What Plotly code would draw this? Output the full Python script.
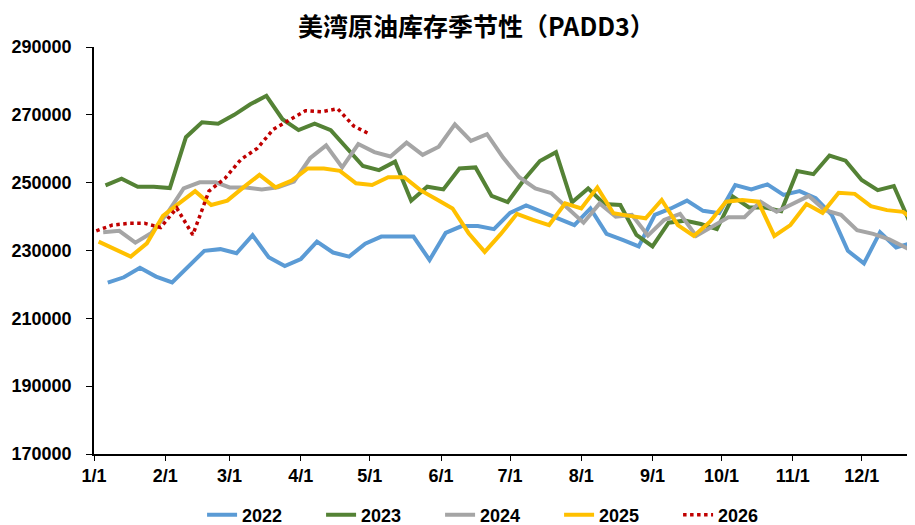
import pandas as pd
import plotly.graph_objects as go

BASE_YEAR = 2023

start_2022 = "2022-01-07"
v2022 = [220500, 222100, 224900, 222300, 220600, 225200, 229900, 230400, 229200, 234500,
         228000, 225400, 227500, 232600, 229400, 228200, 232000, 234100, 234100, 234100,
         227200, 235200, 237200, 237200, 236300, 241100, 243300, 241400, 239500, 237500,
         242400, 234900, 233100, 231200, 240500, 242400, 244700, 241700, 241000, 249300,
         248000, 249500, 246400, 247500, 245400, 240500, 229900, 226200, 235400, 230900,
         232300]

start_2023 = "2023-01-06"
v2023 = [249200, 251200, 248800, 248800, 248400, 263400, 267800, 267400, 270000, 273100,
         275600, 268700, 265500, 267400, 265500, 260100, 254900, 253700, 256200, 244700,
         248800, 248000, 254200, 254500, 246100, 244300, 250800, 256400, 259000, 244200,
         248300, 243700, 243400, 234600, 231200, 238200, 238800, 237800, 236300, 245900,
         242700, 242700, 241600, 253400, 252500, 258000, 256500, 250800, 247800, 249000,
         238200, 233500]

start_2024 = "2024-01-05"
v2024 = [235400, 235800, 232300, 235200, 241100, 248300, 250100, 250100, 248600, 248600,
         248000, 248600, 250300, 257200, 261000, 254500, 261400, 259000, 257700, 261800,
         258200, 260600, 267200, 262300, 264300, 257400, 251600, 248300, 246900, 242400,
         238200, 243900, 240000, 240500, 234400, 239000, 240800, 234300, 237000, 239800,
         239800, 244400, 241400, 243900, 246100, 241900, 240500, 236000, 234900, 233300,
         230800, 228500]

start_2025 = "2025-01-03"
v2025 = [232600, 230400, 228200, 232100, 240200, 243900, 247500, 243400, 244700, 248600,
         252300, 248600, 250600, 254200, 254200, 253500, 249800, 249300, 251600, 251600,
         247800, 245100, 242400, 235100, 229600, 234900, 240800, 239000, 237500, 243900,
         242400, 248600, 241000, 240200, 239500, 244900, 237500, 234300, 238500, 244400,
         244900, 244400, 234300, 237500, 243700, 241100, 247000, 246700, 243100, 241900,
         241400, 238000]

start_2026 = "2026-01-02"
v2026 = [235800, 237500, 238000, 238000, 236800, 242500, 234600, 247500, 251300, 256900,
         260100, 265700, 268500, 271200, 270900, 271800, 266700, 264300]

series = [
    ("2022", start_2022, v2022, "#5B9BD5", "solid"),
    ("2023", start_2023, v2023, "#548235", "solid"),
    ("2024", start_2024, v2024, "#A5A5A5", "solid"),
    ("2025", start_2025, v2025, "#FFC000", "solid"),
    ("2026", start_2026, v2026, "#C00000", "dot"),
]

y_ticks = [170000, 190000, 210000, 230000, 250000, 270000, 290000]

tick_font = dict(family="Liberation Sans, Arial", size=18, color="black", weight="bold")

fig = go.Figure()
for name, start, vals, color, dash in series:
    dates = pd.date_range(start, periods=len(vals), freq="7D")
    x = [d.replace(year=BASE_YEAR).strftime("%Y-%m-%d") for d in dates]
    fig.add_trace(go.Scatter(
        x=x, y=vals, name=name, mode="lines",
        line=dict(color=color, width=4 if dash == "solid" else 3.5, dash=dash),
    ))

# page body adds an 8px offset, so the figure is sized to the remaining window
fig.update_layout(
    width=907, height=517,
    margin=dict(l=86, r=0, t=39, b=71, autoexpand=False),
    paper_bgcolor="white", plot_bgcolor="white",
    title=dict(text="美湾原油库存季节性（PADD3）", x=0.5165, xanchor="center",
               y=0.963, yanchor="middle",
               font=dict(family="Noto Sans CJK SC", size=25, color="black", weight="bold")),
    showlegend=True,
    legend=dict(orientation="h", x=0.494, xanchor="center", y=-0.15, yanchor="middle",
                font=tick_font, entrywidth=74, entrywidthmode="pixels",
                itemwidth=30),
)
fig.update_xaxes(
    type="date", automargin=False,
    range=[f"{BASE_YEAR}-01-01", f"{BASE_YEAR}-12-24 05:00"],
    tickformat="%-m/%-d", dtick="M1", tick0=f"{BASE_YEAR}-01-01",
    showline=True, linecolor="black", linewidth=1.5,
    ticks="outside", ticklen=5, tickcolor="black",
    showgrid=False, zeroline=False, tickfont=tick_font, ticklabelstandoff=0,
)
fig.update_yaxes(
    range=[170000, 290000], tickvals=y_ticks, tickformat="d", automargin=False,
    showline=True, linecolor="black", linewidth=1.5,
    ticks="outside", ticklen=6, tickcolor="black",
    showgrid=False, zeroline=False, tickfont=tick_font, ticklabelstandoff=11,
)

fig.write_html("out.html")
